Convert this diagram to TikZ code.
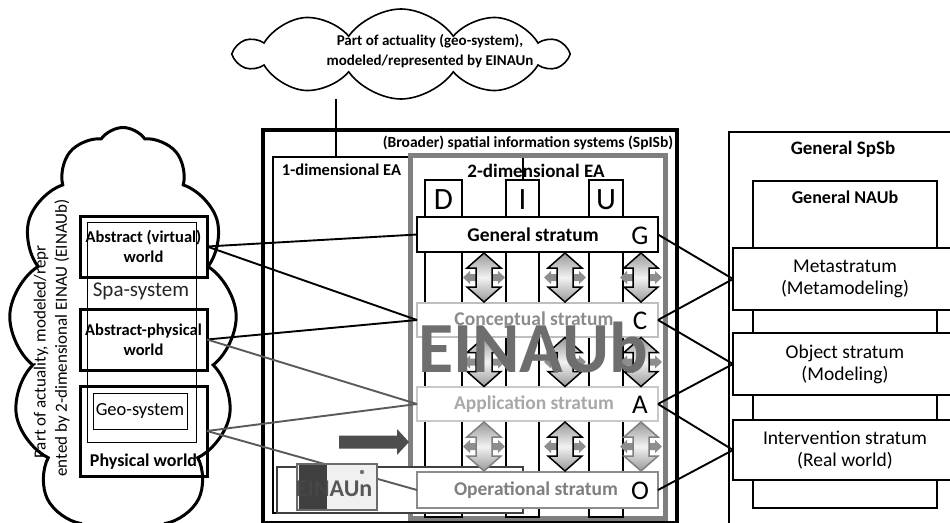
\documentclass[tikz,border=0pt]{standalone}
\usepackage{fontspec}
\setmainfont{Carlito}
\usetikzlibrary{shapes.symbols}
\newcommand\fsz[2]{\fontsize{#1}{#2}\selectfont}
\definecolor{frameG}{HTML}{7F7F7F}
\definecolor{lineG}{HTML}{5A5A5A}
\definecolor{concB}{HTML}{BFBFBF}
\definecolor{concT}{HTML}{8C8C8C}
\definecolor{appB}{HTML}{C8C8C8}
\definecolor{appT}{HTML}{A8A8A8}
\definecolor{opB}{HTML}{8C8C8C}
\definecolor{opT}{HTML}{7F7F7F}
\definecolor{bigG}{HTML}{6E6E6E}
\definecolor{arrD}{HTML}{4D4D4D}
\definecolor{hArr}{HTML}{8E8E8E}
\begin{document}
\begin{tikzpicture}[x=1pt,y=-1pt,
  every node/.style={inner sep=0pt, outer sep=0pt},
  frame/.style={draw=black, line width=#1},
  wbox/.style={draw=black, line width=#1, fill=white},
  col/.style={draw=black, line width=1.8pt, fill=white, minimum height=337},
  stratum/.style={line width=#1, fill=white, minimum width=241},
  strtext/.style={font=\fsz{19.5}{22}\bfseries},
  strletter/.style={font=\fsz{27}{29}},
  link/.style={draw=black, line width=1.9pt},
  glink/.style={draw=lineG, line width=1.9pt},
  puffy/.style={cloud, cloud ignores aspect, draw=black, fill=white},
  pics/vdarrow/.style={code={
    \fill[hArr] (-21,0) -- (-14,-6.5) -- (-14,-3.5) -- (14,-3.5) -- (14,-6.5)
      -- (21,0) -- (14,6.5) -- (14,3.5) -- (-14,3.5) -- (-14,6.5) -- cycle;
    \path[draw=#1, line width=1.5pt, top color=gray!80, bottom color=gray!80,
      middle color=gray!10]
      (0,-24.5) -- (17,-9.5) -- (8,-9.5) -- (8,9.5) -- (17,9.5) -- (0,24.5)
      -- (-17,9.5) -- (-8,9.5) -- (-8,-9.5) -- (-17,-9.5) -- cycle;
  }}]
\useasboundingbox (0,0) rectangle (950,522);
\clip (0,0) rectangle (950,522);
\fill[white] (0,0) rectangle (950,522);

% ---------- right-hand general system ----------
\node[frame=2.5pt, minimum width=233, minimum height=413] (spsb) at (845.5,338.5) {};
\node[font=\fsz{19}{22}\bfseries] (spsbT) at (843,149) {General SpSb};
\node[frame=2pt, minimum width=184, minimum height=327] (naub) at (845,344.5) {};
\node[font=\fsz{18}{21}\bfseries] (naubT) at (845,197) {General NAUb};
\node[wbox=2pt, minimum width=224, minimum height=62, align=center, font=\fsz{19.5}{22}]
  (ms) at (845,279) {Metastratum\\(Metamodeling)};
\node[wbox=2pt, minimum width=224, minimum height=62, align=center, font=\fsz{19.5}{22}]
  (ob) at (845,364) {Object stratum\\(Modeling)};
\node[wbox=2pt, minimum width=224, minimum height=60, align=center, font=\fsz{19.5}{22}]
  (iv) at (845,450) {Intervention stratum\\(Real world)};

% ---------- broader spatial information systems ----------
\node[frame=3.5pt, minimum width=414, minimum height=393] (spisb) at (470,326.5) {};
\node[font=\fsz{15.5}{18}\bfseries] (spisbT) at (528,143)
  {(Broader) spatial information systems (SpISb)};
\node[frame=2pt, minimum width=250, minimum height=356] (onedim) at (398,335) {};
\node[font=\fsz{16.5}{19}\bfseries] (onedimT) at (341.5,170) {1-dimensional EA};
\node[draw=frameG, line width=5pt, minimum width=255, minimum height=363] (twodim) at (537.5,336.5) {};
\node[font=\fsz{19}{22}\bfseries] (twodimT) at (536,171) {2-dimensional EA};

% columns D, I, U
\node[col, minimum width=37] (colD) at (443.5,348.5) {};
\node[col, minimum width=33] (colI) at (522.5,348.5) {};
\node[col, minimum width=34] (colU) at (606,348.5) {};
\node[font=\fsz{31}{33}] (lD) at (443.5,200) {D};
\node[font=\fsz{31}{33}] (lI) at (522.5,200) {I};
\node[font=\fsz{31}{33}] (lU) at (606,200) {U};

% box of the 1-dimensional approach
\node[draw=black!75, line width=1.5pt, fill=white, minimum width=246, minimum height=46] (einaunbox) at (400,490) {};

% strata
\node[stratum=1.5pt, draw=black, minimum height=35] (gs) at (537.5,234.5) {};
\node[stratum=2pt, draw=concB, minimum height=34] (cs) at (537.5,320) {};
\node[stratum=2pt, draw=appB, minimum height=34] (as) at (537.5,404) {};
\node[stratum=2pt, draw=opB, minimum height=36] (os) at (537.5,490) {};
\node[strtext] (gsT) at (533,235) {General stratum};
\node[strtext, text=concT] (csT) at (534,320) {Conceptual stratum};
\node[strtext, text=appT] (asT) at (534,404) {Application stratum};
\node[strtext, text=opT] (osT) at (536,490) {Operational stratum};
\node[strletter] (gL) at (640,236) {G};
\node[strletter] (cL) at (640,321) {C};
\node[strletter] (aL) at (640,405) {A};
\node[strletter] (oL) at (640,491) {O};

% exchange arrows between strata
\foreach \x in {484,565,641} {
  \pic at (\x,277.5) {vdarrow=black};
  \pic at (\x,362) {vdarrow=black};
}
\pic at (484,446.5) {vdarrow=frameG};
\pic at (565,446.5) {vdarrow=black};
\pic at (641,446.5) {vdarrow=frameG};

\node[font=\fsz{72}{72}\bfseries, text=bigG] (einaub) at (533,347) {EINAUb};

% transition arrow
\fill[arrD] (339,435.5) -- (397,435.5) -- (397,429) -- (409,442) -- (397,455)
  -- (397,448.5) -- (339,448.5) -- cycle;

% ---------- left cloud: worlds ----------
\node[puffy, line width=3pt, cloud puffs=13, cloud puff arc=110,
  minimum width=228, minimum height=425] (lcloud) at (123,340) {};
\node[rotate=90, font=\fsz{17}{20}] (lc1) at (41,352) {Part of actuality, modeled/repr};
\node[rotate=90, font=\fsz{17}{20}] (lc2) at (62,338) {ented by 2-dimensional EINAU (EINAUb)};
\node[draw=black, line width=0.8pt, minimum width=109, minimum height=220] (spa) at (141.5,332) {};
\node[font=\fsz{21}{24}, text=black!85] (spaT) at (141,291) {Spa-system};
\node[frame=3pt, minimum width=127, minimum height=61, align=center,
  font=\fsz{16.5}{20}\bfseries] (av) at (143.5,246.5) {Abstract (virtual)\\world};
\node[frame=3pt, minimum width=127, minimum height=61, align=center,
  font=\fsz{16.5}{20}\bfseries] (ap) at (143.5,339.5) {Abstract-physical\\world};
\node[frame=3pt, minimum width=127, minimum height=90] (pw) at (143.5,431) {};
\node[draw=black, line width=0.8pt, minimum width=94, minimum height=36,
  font=\fsz{18.5}{21}] (geo) at (140,411) {Geo-system};
\node[font=\fsz{18}{21}\bfseries] (pwT) at (143.5,462) {Physical world};

% ---------- connectors ----------
\draw[link] (av.east) -- (gs.west);
\draw[link] (av.east) -- (cs.west);
\draw[link] (ap.east) -- (cs.west);
\draw[glink] (ap.east) -- (as.west);
\draw[glink] (pw.east) -- (as.west);
\draw[glink] (pw.east) -- (os.west);
\draw[link] (gs.east) -- (ms.west);
\draw[link] (cs.east) -- (ms.west);
\draw[link] (cs.east) -- (ob.west);
\draw[link] (as.east) -- (ob.west);
\draw[link] (as.east) -- (iv.west);
\draw[link] (os.east) -- (iv.west);

% thumbnail of the 1-dimensional model
\node[draw=black!58, line width=2pt, fill=black!6, minimum width=80, minimum height=46] (thumb) at (337,487) {};
\fill[black!75] (299,465) rectangle (327,509);
\fill[black!55] (362,472) circle (2.2);
\node[font=\fsz{24}{26}\bfseries, text=black!72, opacity=0.9] (einaun) at (334,489) {EINAUn};

% ---------- top cloud ----------
\node[puffy, line width=1.6pt, cloud puffs=10, cloud puff arc=110,
  minimum width=328, minimum height=90] (tcloud) at (401,54) {};
\node[align=center, font=\fsz{15}{19.5}\bfseries] (tcT) at (430,51)
  {Part of actuality (geo-system),\\modeled/represented by EINAUn};
\coordinate (cfoot) at (336,157);
\draw[line width=2pt] (cfoot |- tcloud.south) -- (cfoot);
\end{tikzpicture}
\end{document}
